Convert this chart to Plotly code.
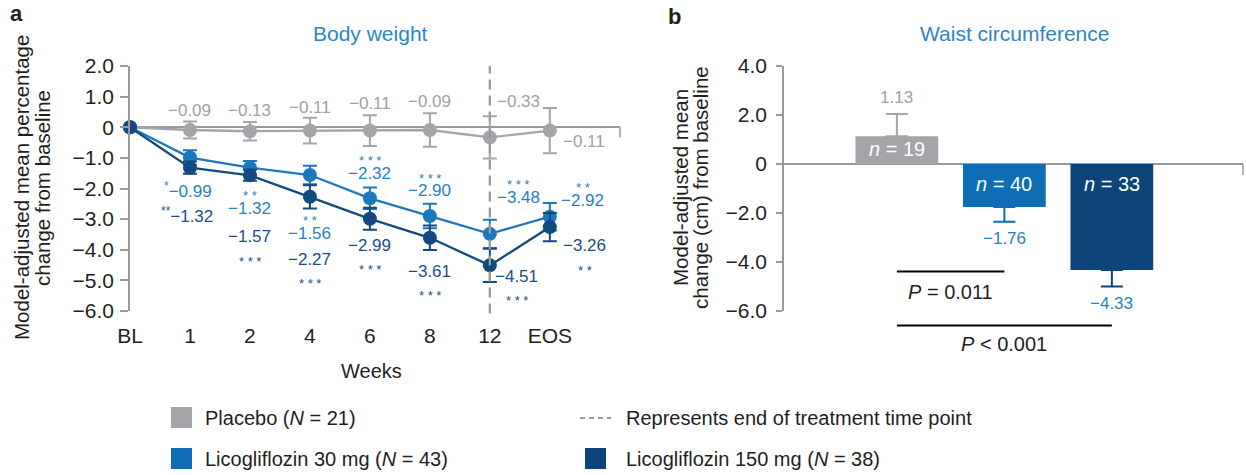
import plotly.graph_objects as go

# ---------------- data ----------------
weeks = ["BL", "1", "2", "4", "6", "8", "12", "EOS"]
placebo = [0, -0.09, -0.13, -0.11, -0.11, -0.09, -0.33, -0.11]
placebo_err = [0, 0.28, 0.30, 0.42, 0.50, 0.55, 0.69, 0.74]
lico30 = [0, -0.99, -1.32, -1.56, -2.32, -2.90, -3.48, -2.92]
lico30_err = [0, 0.24, 0.22, 0.30, 0.35, 0.40, 0.46, 0.45]
lico150 = [0, -1.32, -1.57, -2.27, -2.99, -3.61, -4.51, -3.26]
lico150_err = [0, 0.20, 0.18, 0.38, 0.36, 0.40, 0.54, 0.46]
sig30 = ["", "*", "**", "**", "***", "***", "***", "**"]
sig150 = ["", "**", "***", "***", "***", "***", "***", "**"]

waist_groups = ["Placebo", "Licogliflozin 30 mg", "Licogliflozin 150 mg"]
waist = [1.13, -1.76, -4.33]
waist_err = [0.91, 0.60, 0.67]
waist_n = [19, 40, 33]
p_texts = ["<i>P</i> = 0.011", "<i>P</i> < 0.001"]

legend_labels = ["Placebo (<i>N</i> = 21)", "Licogliflozin 30 mg (<i>N</i> = 43)",
                 "Licogliflozin 150 mg (<i>N</i> = 38)", "Represents end of treatment time point"]

# ---------------- label placement (style) ----------------
lab_pl_x = [None, 1, 2, 3, 4, 5, 6.47, 7.57]
lab_pl_y = [None, 0.56, 0.56, 0.63, 0.78, 0.83, 0.83, -0.46]
lab30_x = [None, 0.97, 2, 3, 4, 5, 6.47, 7.55]
lab30_y = [None, -2.05, -2.65, -3.46, -1.51, -2.08, -2.29, -2.38]
lab150_x = [None, 0.95, 2, 3, 4, 5, 6.45, 7.58]
lab150_y = [None, -2.86, -3.57, -4.32, -3.86, -4.70, -4.86, -3.87]

# ---------------- style ----------------
FONT = "Liberation Sans, Arial, Helvetica, sans-serif"
GRAY = "#A3A5A8"
BLUE = "#1C77BD"
NAVY = "#124A80"
BAR30 = "#0E6DB4"
BAR150 = "#0D457B"
GRAY_T = "#9FA1A4"
BLUE_T = "#2A7FC2"
NAVY_T = "#1A4E85"
TITLE_C = "#2A86C8"
AX = "#9A9A9A"
TXT = "#231F20"

W, H = 1246, 475
def px(x): return x / W
def py(y): return 1 - y / H

YDOM = [py(311), py(66)]
XDOM1 = [px(130), px(620)]
XDOM2 = [px(784), px(1243)]

def fmt(v):
    return f"{v:.2f}".replace("-", "\u2212")

def stars(s):
    return " ".join(s)

def y2paper(v, lo=-6, hi=4):
    return YDOM[0] + (v - lo) / (hi - lo) * (YDOM[1] - YDOM[0])

fig = go.Figure()
xi = list(range(len(weeks)))
for vals, errs, col in [(placebo, placebo_err, GRAY), (lico30, lico30_err, BLUE), (lico150, lico150_err, NAVY)]:
    fig.add_trace(go.Scatter(
        x=xi, y=vals, mode="lines+markers",
        line=dict(color=col, width=2.3), marker=dict(size=14, color=col),
        error_y=dict(type="data", array=errs, color=col, thickness=2, width=7),
        cliponaxis=False, xaxis="x", yaxis="y", showlegend=False, hoverinfo="skip"))

bar_cols = [GRAY, BAR30, BAR150]
for i, (v, e, c) in enumerate(zip(waist, waist_err, bar_cols)):
    fig.add_trace(go.Bar(
        x=[i], y=[v], width=0.77, marker=dict(color=c, line=dict(width=0)),
        error_y=dict(type="data", symmetric=False,
                     array=[e if v > 0 else 0], arrayminus=[e if v < 0 else 0],
                     color=c, thickness=2, width=11),
        xaxis="x2", yaxis="y2", showlegend=False, hoverinfo="skip", name=waist_groups[i]))

ann = []
def A(x, y, text, size=17, color=TXT, xref="paper", yref="paper", **kw):
    d = dict(x=x, y=y, text=text, xref=xref, yref=yref, showarrow=False,
             xanchor="center", yanchor="middle",
             font=dict(family=FONT, size=size, color=color))
    d.update(kw)
    ann.append(d)

# left labels
for i in range(1, len(weeks)):
    A(lab_pl_x[i], lab_pl_y[i], fmt(placebo[i]), 17, GRAY_T, "x", "y")
for i in range(1, len(weeks)):
    if i == 1:
        A(lab30_x[i], lab30_y[i], f"<sup>{sig30[i]}</sup>{fmt(lico30[i])}", 17, BLUE_T, "x", "y")
        A(lab150_x[i], lab150_y[i], f"<sup>{sig150[i]}</sup>{fmt(lico150[i])}", 17, NAVY_T, "x", "y")
    else:
        A(lab30_x[i], lab30_y[i], fmt(lico30[i]), 17, BLUE_T, "x", "y")
        A(lab30_x[i], lab30_y[i] + 0.52, stars(sig30[i]), 13, BLUE_T, "x", "y", yshift=-3)
        A(lab150_x[i], lab150_y[i], fmt(lico150[i]), 17, NAVY_T, "x", "y")
        A(lab150_x[i], lab150_y[i] - 0.70, stars(sig150[i]), 13, NAVY_T, "x", "y", yshift=-3)

# right labels
lab_cols = [GRAY_T, BLUE_T, BLUE_T]
for i, (v, e) in enumerate(zip(waist, waist_err)):
    yl = v + e + 0.68 if v > 0 else v - e - 0.68
    A(i, yl, fmt(v), 17, lab_cols[i], "x2", "y2")
    yn = v * 0.55 if v > 0 else -0.81
    A(i, yn, f"<i>n</i> = {waist_n[i]}", 20, "white", "x2", "y2")
A(0.5, y2paper(-5.24), p_texts[0], 20, TXT, "x2", "paper")
A(1.0, y2paper(-7.36), p_texts[1], 20, TXT, "x2", "paper")

# titles
A(px(370), py(33), "Body weight", 21, TITLE_C)
A(px(1014), py(33), "Waist circumference", 21, TITLE_C)
A(px(16), py(13), "<b>a</b>", 22, TXT)
A(px(674), py(17), "<b>b</b>", 22, TXT)
A(px(371), py(371), "Weeks", 20, TXT)
A(px(22), py(188), "Model-adjusted mean percentage", 20.5, TXT, textangle=-90)
A(px(43), py(188), "change from baseline", 20.5, TXT, textangle=-90)
A(px(681), py(188), "Model-adjusted mean", 20.5, TXT, textangle=-90)
A(px(701), py(188), "change (cm) from baseline", 20.5, TXT, textangle=-90)

# legend text
A(px(203), py(418), legend_labels[0], 20, TXT, xanchor="left")
A(px(203), py(459), legend_labels[1], 20, TXT, xanchor="left")
A(px(624), py(459), legend_labels[2], 20, TXT, xanchor="left")
A(px(624), py(418), legend_labels[3], 20, TXT, xanchor="left")

shapes = []
# end-of-treatment dashed line
shapes.append(dict(type="line", xref="x", yref="y domain", x0=6, x1=6, y0=-0.01, y1=1,
                   line=dict(color=AX, width=2.3, dash="10px,6px")))
# axis end ticks
shapes.append(dict(type="line", xref="x domain", yref="y", x0=1, x1=1, y0=0, y1=-0.33,
                   line=dict(color=AX, width=1.5)))
shapes.append(dict(type="line", xref="x2 domain", yref="y2", x0=1, x1=1, y0=0, y1=-0.45,
                   line=dict(color=AX, width=1.5)))
# significance lines
shapes.append(dict(type="line", xref="x2", yref="paper", x0=0, x1=1,
                   y0=y2paper(-4.39), y1=y2paper(-4.39), line=dict(color="black", width=2)))
shapes.append(dict(type="line", xref="x2", yref="paper", x0=0, x1=2,
                   y0=y2paper(-6.59), y1=y2paper(-6.59), line=dict(color="black", width=2)))
# legend markers
for (x0, y0, c) in [(171, 407, GRAY), (171, 448, BAR30), (585, 448, BAR150)]:
    shapes.append(dict(type="rect", xref="paper", yref="paper", x0=px(x0), x1=px(x0 + 21),
                       y0=py(y0 + 21), y1=py(y0), fillcolor=c, line=dict(width=0)))
shapes.append(dict(type="line", xref="paper", yref="paper", x0=px(580), x1=px(611),
                   y0=py(418), y1=py(418), line=dict(color=AX, width=2, dash="5px,4px")))

axis_common = dict(showgrid=False, ticks="outside", tickcolor=AX, tickwidth=1.5,
                   showline=True, linecolor=AX, linewidth=1.5,
                   zeroline=True, zerolinecolor=AX, zerolinewidth=1.5,
                   tickfont=dict(family=FONT, size=21, color=TXT), automargin=False)

fig.update_layout(
    width=W, height=H, autosize=False,
    margin=dict(l=0, r=0, t=0, b=0),
    paper_bgcolor="white", plot_bgcolor="white",
    barmode="overlay",
    xaxis=dict(domain=XDOM1, range=[0, 8.17], anchor="y", showgrid=False, zeroline=False,
               showline=False, tickvals=xi, ticktext=weeks, ticks="outside", ticklen=6,
               tickcolor="rgba(0,0,0,0)",
               tickfont=dict(family=FONT, size=21, color=TXT), automargin=False),
    yaxis=dict(domain=YDOM, range=[-6, 2], anchor="x", ticklen=8, ticklabelstandoff=2,
               tickvals=[2, 1, 0, -1, -2, -3, -4, -5, -6],
               ticktext=["2.0", "1.0", "0", "\u22121.0", "\u22122.0", "\u22123.0", "\u22124.0", "\u22125.0", "\u22126.0"],
               **axis_common),
    xaxis2=dict(domain=XDOM2, range=[-1.05, 3.22], anchor="y2", showgrid=False, zeroline=False,
                showline=False, showticklabels=False, ticks="", automargin=False),
    yaxis2=dict(domain=YDOM, range=[-6, 4], anchor="x2", ticklen=6, ticklabelstandoff=5,
                tickvals=[4, 2, 0, -2, -4, -6],
                ticktext=["4.0", "2.0", "0", "\u22122.0", "\u22124.0", "\u22126.0"],
                **axis_common),
    annotations=ann, shapes=shapes,
)

fig.write_html("out.html")
